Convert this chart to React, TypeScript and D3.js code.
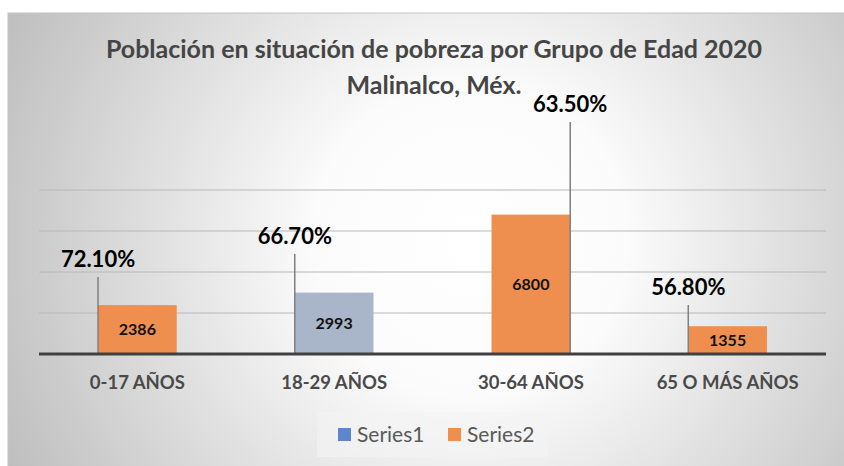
import React, { useEffect, useRef } from 'react';
import * as d3 from 'd3';

// datos
const categories = ['0-17 AÑOS', '18-29 AÑOS', '30-64 AÑOS', '65 O MÁS AÑOS'];
const series1 = [0.721, 0.667, 0.635, 0.568]; // porcentaje en pobreza
const series2 = [2386, 2993, 6800, 1355]; // poblacion
const barColors = ['#EF8F4F', '#A9B5C8', '#EF8F4F', '#EF8F4F'];
const seriesNames = ['Series1', 'Series2'];
const legendColors = ['#5E87CB', '#EF8F4F'];
const yTicks = [2000, 4000, 6000, 8000];

// las etiquetas de porcentaje fueron movidas a mano (pixeles sobre la base)
const labelLift = [77, 100, 232, 49];
const leaderSide = [-1, -1, 1, -1];

const W = 844, H = 466;

export default function App() {
  const ref = useRef<SVGSVGElement>(null);

  useEffect(() => {
    const svg = d3.select(ref.current);
    svg.selectAll('*').remove();

    const defs = svg.append('defs');
    const grad = defs.append('radialGradient')
      .attr('id', 'bg')
      .attr('gradientUnits', 'userSpaceOnUse')
      .attr('cx', 470).attr('cy', 240).attr('r', 520);
    grad.append('stop').attr('offset', '0').attr('stop-color', '#ffffff');
    grad.append('stop').attr('offset', '0.3').attr('stop-color', '#fbfbfb');
    grad.append('stop').attr('offset', '1').attr('stop-color', '#bdbdbd');

    svg.append('rect').attr('width', W).attr('height', H).attr('fill', '#ffffff');
    svg.append('rect')
      .attr('x', 8).attr('y', 13)
      .attr('width', W).attr('height', H)
      .attr('fill', 'url(#bg)')
      .attr('stroke', '#c4c4c4');

    const font = 'Lato, "Open Sans", sans-serif';

    // titulo
    const title = svg.append('text')
      .attr('text-anchor', 'middle')
      .attr('font-family', font)
      .attr('font-weight', 700)
      .attr('font-size', 25)
      .attr('fill', '#454545');
    title.append('tspan').attr('x', 434).attr('y', 58)
      .text('Población en situación de pobreza por Grupo de Edad 2020');
    title.append('tspan').attr('x', 434).attr('y', 94)
      .text('Malinalco, Méx.');

    const x = d3.scaleBand().domain(categories).range([39, 826]);
    const y = d3.scaleLinear().domain([0, 8000]).range([354, 190]);
    const bw = x.bandwidth() * 0.4;

    // lineas de cuadricula
    svg.append('g').selectAll('line').data(yTicks).join('line')
      .attr('x1', 39).attr('x2', 826)
      .attr('y1', d => y(d)).attr('y2', d => y(d))
      .attr('stroke', '#b8b8b8').attr('stroke-width', 1);

    const cx = (i: number) => (x(categories[i]) as number) + x.bandwidth() / 2;

    // barras
    svg.append('g').selectAll('rect').data(series2).join('rect')
      .attr('x', (d, i) => cx(i) - bw / 2)
      .attr('y', d => y(d))
      .attr('width', bw)
      .attr('height', d => y(0) - y(d))
      .attr('fill', (d, i) => barColors[i]);

    svg.append('g').selectAll('text').data(series2).join('text')
      .attr('x', (d, i) => cx(i))
      .attr('y', d => (y(d) + y(0)) / 2)
      .attr('dy', '0.36em')
      .attr('text-anchor', 'middle')
      .attr('font-family', font)
      .attr('font-weight', 700)
      .attr('font-size', 16)
      .attr('fill', '#111')
      .text(d => d);

    // lineas guia y etiquetas de Series1
    const lx = (i: number) => cx(i) + leaderSide[i] * bw / 2;
    svg.append('g').selectAll('line').data(series1).join('line')
      .attr('x1', (d, i) => lx(i)).attr('x2', (d, i) => lx(i))
      .attr('y1', (d, i) => y(0) - labelLift[i]).attr('y2', y(0))
      .attr('stroke', '#7f7f7f').attr('stroke-width', 1.5);

    svg.append('g').selectAll('text').data(series1).join('text')
      .attr('x', (d, i) => lx(i))
      .attr('y', (d, i) => y(0) - labelLift[i] - 10)
      .attr('text-anchor', 'middle')
      .attr('font-family', font)
      .attr('font-weight', 700)
      .attr('font-size', 22)
      .attr('fill', '#000')
      .text(d => (d * 100).toFixed(2) + '%');

    // eje horizontal
    svg.append('line')
      .attr('x1', 39).attr('x2', 826)
      .attr('y1', y(0)).attr('y2', y(0))
      .attr('stroke', '#404040').attr('stroke-width', 3);

    svg.append('g').selectAll('text').data(categories).join('text')
      .attr('x', (d, i) => cx(i))
      .attr('y', 389)
      .attr('text-anchor', 'middle')
      .attr('font-family', font)
      .attr('font-weight', 700)
      .attr('font-size', 18.5)
      .attr('fill', '#4a4a4a')
      .text(d => d);

    // leyenda
    svg.append('rect')
      .attr('x', 317).attr('y', 412).attr('width', 231).attr('height', 45)
      .attr('fill', '#f4f4f4').attr('opacity', 0.6);
    const leg = svg.append('g').selectAll('g').data(seriesNames).join('g')
      .attr('transform', (d, i) => `translate(${338 + i * 110},428)`);
    leg.append('rect')
      .attr('width', 13).attr('height', 13)
      .attr('fill', (d, i) => legendColors[i]);
    leg.append('text')
      .attr('x', 19).attr('y', 13.5)
      .attr('font-family', font)
      .attr('font-size', 21)
      .attr('fill', '#595959')
      .text(d => d);
  }, []);

  return (
    <svg ref={ref} width={W} height={H}
      style={{ position: 'absolute', left: 0, top: 0 }} />
  );
}
